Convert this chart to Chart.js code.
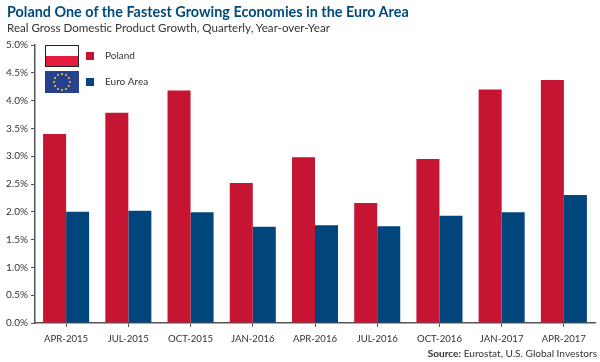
<!DOCTYPE html>
<html>
<head>
<meta charset="utf-8">
<script src="https://cdn.jsdelivr.net/npm/chart.js@4"></script>
<style>
  html, body { margin: 0; padding: 0; background: #fff; }
  #wrap { position: relative; width: 600px; height: 362px; overflow: hidden; font-family: Lato, sans-serif; }
  #wrap div { position: absolute; white-space: nowrap; }
  #title { left: 7px; top: 3px; font: bold 14.4px Lato, sans-serif; color: #004b7c; }
  #subtitle { left: 7px; top: 21px; font: 11.6px Lato, sans-serif; color: #333; }
  #source { right: 3px; top: 347px; font: 10.1px Lato, sans-serif; color: #333; }
  #flagPl { left: 45px; top: 45px; width: 32px; height: 20px; border: 1px solid #222; background: linear-gradient(#fff 50%, #e31c3d 50%); }
  #flagEu { left: 45px; top: 71px; width: 34px; height: 22px; background: #27408f; }
  canvas { display: block; }
</style>
</head>
<body>
<div id="wrap">
  <canvas id="gdpChart" width="600" height="362"></canvas>
  <div id="title">Poland One of the Fastest Growing Economies in the Euro Area</div>
  <div id="subtitle">Real Gross Domestic Product Growth, Quarterly, Year-over-Year</div>
  <div id="source"><b>Source:</b> Eurostat, U.S. Global Investors</div>
  <div id="flagPl"></div>
  <div id="flagEu">
    <svg width="34" height="22" viewBox="-17 -11 34 22">
      <g fill="#f7d117" id="stars"></g>
    </svg>
  </div>
</div>
<script>
const categories = ['APR-2015', 'JUL-2015', 'OCT-2015', 'JAN-2016', 'APR-2016', 'JUL-2016', 'OCT-2016', 'JAN-2017', 'APR-2017'];
const poland = [3.4, 3.78, 4.18, 2.52, 2.98, 2.16, 2.95, 4.2, 4.37];
const euroArea = [2.0, 2.02, 1.99, 1.73, 1.76, 1.74, 1.93, 1.99, 2.3];

const red = '#c51532';
const blue = '#00457c';
const axisColor = '#555';
const textColor = '#333';

// ring of 12 stars on the EU flag
let stars = '';
for (let i = 0; i < 12; i++) {
    const a = i * Math.PI / 6;
    stars += `<circle cx="${(8 * Math.sin(a)).toFixed(1)}" cy="${(-8 * Math.cos(a)).toFixed(1)}" r="1"/>`;
}
document.getElementById('stars').innerHTML = stars;

// legend sits beside the flags, inside the plot
const legendPlugin = {
    id: 'flagLegend',
    afterDraw(chart) {
        const ctx = chart.ctx;
        const rows = [[56, 0], [82, 1]];
        ctx.save();
        ctx.font = "10px Lato, sans-serif";
        ctx.textBaseline = 'middle';
        rows.forEach(([y, i]) => {
            const ds = chart.data.datasets[i];
            ctx.fillStyle = ds.backgroundColor;
            ctx.fillRect(86, y - 4, 8, 8);
            ctx.fillStyle = textColor;
            ctx.fillText(ds.label, 105, y);
        });
        ctx.restore();
    }
};

new Chart(document.getElementById('gdpChart').getContext('2d'), {
    type: 'bar',
    data: {
        labels: categories,
        datasets: [
            { label: 'Poland', data: poland, backgroundColor: red },
            { label: 'Euro Area', data: euroArea, backgroundColor: blue }
        ]
    },
    options: {
        responsive: false,
        animation: false,
        layout: { padding: { top: 45, right: 5, left: 0, bottom: 0 } },
        datasets: { bar: { categoryPercentage: 0.74, barPercentage: 1 } },
        scales: {
            x: {
                afterFit(scale) { scale.height = 39; },
                border: { color: axisColor, width: 1.5 },
                grid: { offset: false, drawOnChartArea: false, color: axisColor, tickLength: 4 },
                ticks: { color: textColor, font: { family: 'Lato', size: 9.6 }, maxRotation: 0, autoSkip: false, padding: 6 }
            },
            y: {
                min: 0,
                max: 5,
                afterFit(scale) { scale.width = 35; },
                border: { color: axisColor, width: 1.5 },
                grid: { drawOnChartArea: false, color: axisColor, tickLength: 4 },
                ticks: {
                    stepSize: 0.5,
                    color: textColor,
                    font: { family: 'Lato', size: 10 },
                    padding: 3,
                    callback: v => v.toFixed(1) + '%'
                }
            }
        },
        plugins: {
            legend: { display: false },
            tooltip: { enabled: false }
        }
    },
    plugins: [legendPlugin]
});
</script>
</body>
</html>
